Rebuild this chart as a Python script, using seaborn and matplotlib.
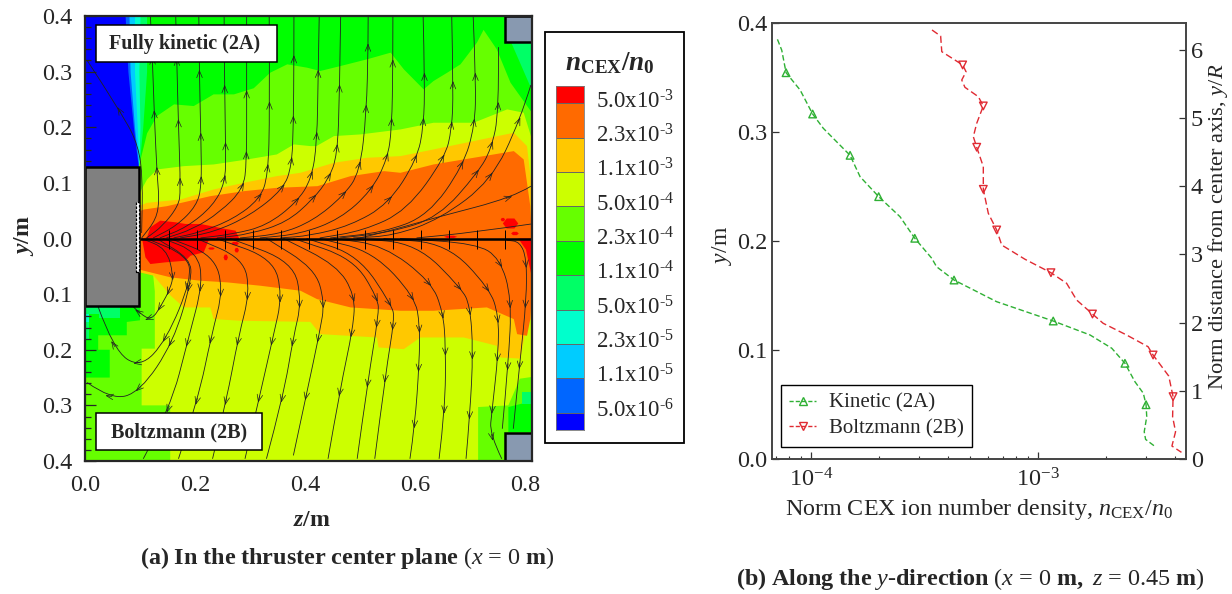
import matplotlib
matplotlib.use("Agg")
import matplotlib.pyplot as plt
import numpy as np
import pandas as pd
import seaborn as sns
from matplotlib.colors import ListedColormap
from matplotlib.lines import Line2D
from matplotlib.patches import PathPatch, Rectangle
from matplotlib.path import Path

W, H = 1232, 594

# ---- contour colours and levels
band_colors = ["#ff0000", "#ff6a00", "#ffc800", "#ccff00", "#66ff00", "#00ff00",
               "#00ff66", "#00ffcc", "#00ccff", "#0066ff", "#0000ff"]
level_labels = ["5.0x10$^{\\text{-}3}$", "2.3x10$^{\\text{-}3}$", "1.1x10$^{\\text{-}3}$",
                "5.0x10$^{\\text{-}4}$", "2.3x10$^{\\text{-}4}$", "1.1x10$^{\\text{-}4}$",
                "5.0x10$^{\\text{-}5}$", "2.3x10$^{\\text{-}5}$", "1.1x10$^{\\text{-}5}$",
                "5.0x10$^{\\text{-}6}$"]

# ---- fully kinetic half, band edges
lime_top_z = [.097, .112, .13, .161, .197, .233, .27, .306, .336, .367, .403, .427, .464, .512, .555, .579,
              .615, .633, .658, .682, .712, .724, .748, .773, .812]
lime_top_y = [.13, .19, .221, .242, .239, .26, .26, .271, .299, .314, .308, .302, .311, .323, .335, .305,
              .269, .284, .299, .314, .353, .376, .341, .281, .227]
yellow_top_z = [.097, .112, .13, .179, .233, .294, .348, .379, .409, .42, .452, .5, .573, .633, .706, .767, .797, .812]
yellow_top_y = [.08, .107, .125, .131, .134, .143, .152, .17, .167, .167, .185, .188, .197, .209, .209, .233, .227, .179]
amber_top_z = [.099, .112, .173, .233, .288, .348, .391, .452, .512, .573, .633, .706, .779, .803, .812]
amber_top_y = [.06, .065, .071, .089, .101, .113, .119, .137, .146, .149, .161, .176, .191, .167, .089]
orange_top_z = [.099, .106, .148, .227, .288, .348, .422, .482, .543, .573, .633, .706, .779, .797, .809, .812]
orange_top_y = [.05, .053, .059, .077, .086, .092, .095, .113, .122, .119, .134, .146, .158, .143, .059, .0]
red_top_z = [.103, .112, .118, .136, .164, .182, .209, .255, .273, .28]
red_top_y = [.0, .003, .021, .033, .03, .027, .027, .018, .015, .0]
left_y = [.4, .3, .2, .128]
left_edges = {6: [.112, .112, .105, .098], 7: [.1, .098, .1, .098], 8: [.09, .09, .095, .098],
              9: [.08, .082, .09, .098], 10: [.073, .078, .088, .097]}

# ---- Boltzmann half, band edges
amber_low_z = [.099, .124, .155, .179, .227, .233, .282, .409, .427, .53, .533, .579, .609, .688, .748, .755, .791,
               .803, .812]
amber_low_y = [-.06, -.066, -.102, -.123, -.123, -.144, -.147, -.149, -.171, -.177, -.195, -.198, -.177, -.177,
               -.192, -.213, -.215, -.15, -.144]
orange_low_z = [.099, .106, .155, .209, .258, .318, .367, .391, .421, .482, .573, .633, .73, .779, .785, .803, .809, .812]
orange_low_y = [-.055, -.057, -.069, -.075, -.078, -.084, -.09, -.093, -.108, -.123, -.129, -.129, -.123, -.144,
                -.171, -.174, -.144, -.1]
red_low_z = [.103, .109, .118, .145, .182, .191, .215, .225]
red_low_y = [.0, -.033, -.045, -.042, -.039, -.03, -.024, .0]
lime_left_z = [0, 0, .1, .124, .127, .127, .103, .103, .155, .155]
lime_left_y = [-.4, -.12, -.058, -.066, -.095, -.198, -.198, -.3, -.3, -.4]
green_left_z = [0, 0, .1, .1, .076, .076, .024, .024, .045, .045, 0]
green_left_y = [-.25, -.122, -.122, -.147, -.15, -.174, -.174, -.2, -.2, -.25, -.25]
spring_left_z = [0, 0, .063, .063, .025, .025, .008, .008]
spring_left_y = [-.18, -.122, -.122, -.143, -.143, -.135, -.135, -.18]
cyan_left_z = [0, 0, .008, .008]
cyan_left_y = [-.15, -.135, -.135, -.15]
lime_right_z = [.715, .715, .77, .791, .812, .812]
lime_right_y = [-.4, -.303, -.3, -.252, -.249, -.4]
green_right_z = [.77, .77, .794, .812, .812]
green_right_y = [-.348, -.303, -.297, -.297, -.348]
spring_right_z = [.794, .794, .812, .812]
spring_right_y = [-.297, -.276, -.276, -.297]
spring_corner_z = [.775, .812, .812]
spring_corner_y = [.354, .354, .27]
# small red islands: centre z, centre y, half width, half height
red_spots_z = [.774, .76, .782, .23, .256, .273, .276, .665]
red_spots_y = [.027, .034, .009, -.018, -.034, -.009, -.021, .003]
red_spots_dz = [.014, .004, .007, .006, .004, .007, .004, .012]
red_spots_dy = [.009, .003, .003, .002, .005, .003, .004, .002]

# ---- streamlines, far end first
top_lines = [
    ([.004, .07, .097, .105, .103], [.32, .22, .167, .107, .01]),
    ([.119, .123, .126, .1315, .135, .13, .103], [.4, .317, .221, .107, .071, .035, .001]),
    ([.165, .167, .17, .174, .17, .142, .112], [.4, .317, .203, .086, .059, .023, .001]),
    ([.207, .208, .211, .212, .203, .167, .124], [.4, .293, .173, .095, .059, .023, .001]),
    ([.253, .254, .256, .255, .233, .185, .136], [.4, .26, .155, .101, .059, .02, .001]),
    ([.294, .294, .294, .288, .245, .197, .148], [.4, .25, .137, .089, .047, .017, .001]),
    ([.335, .336, .333, .318, .27, .209, .161], [.4, .227, .113, .071, .035, .011, .001]),
    ([.38, .38, .379, .376, .361, .30, .233, .173], [.4, .323, .203, .131, .089, .041, .011, .001]),
    ([.426, .424, .422, .412, .385, .33, .27, .21], [.4, .293, .173, .107, .065, .023, .008, .001]),
    ([.465, .463, .459, .443, .415, .367, .30, .24], [.4, .262, .149, .107, .071, .029, .008, .001]),
    ([.515, .515, .512, .50, .47, .415, .355, .282], [.4, .347, .227, .119, .077, .032, .008, .001]),
    ([.56, .56, .558, .55, .521, .464, .391, .318], [.4, .314, .197, .143, .086, .035, .008, .001]),
    ([.615, .618, .616, .604, .552, .482, .409, .355], [.4, .281, .203, .143, .062, .023, .005, .001]),
    ([.667, .67, .667, .655, .585, .506, .427], [.4, .262, .197, .146, .05, .014, .001]),
    ([.706, .711, .709, .688, .624, .542, .446], [.4, .281, .203, .131, .041, .011, .001]),
    ([.752, .753, .739, .715, .643, .555, .464], [.344, .227, .161, .119, .038, .011, .001]),
    ([.811, .791, .739, .646, .561, .488], [.276, .212, .104, .035, .005, .001]),
    ([.811, .779, .639, .555, .5], [.094, .074, .038, .014, .001]),
    ([.811, .706, .603], [.026, .011, .001]),
]
bottom_lines = [
    ([.088, .1, .121, .139, .155, .161, .148, .103], [-.123, -.135, -.147, -.12, -.09, -.066, -.018, 0]),
    ([.024, .052, .1, .148, .194, .185, .112], [-.123, -.2, -.233, -.183, -.072, -.03, 0]),
    ([.004, .048, .1, .161, .194, .191, .13], [-.259, -.29, -.276, -.186, -.075, -.036, 0]),
    ([.106, .155, .188, .215, .203, .142], [-.396, -.306, -.18, -.078, -.024, 0]),
    ([.17, .206, .23, .252, .233, .155], [-.396, -.288, -.174, -.09, -.03, 0]),
    ([.232, .258, .279, .30, .288, .203], [-.396, -.288, -.177, -.096, -.036, 0]),
    ([.291, .318, .342, .359, .342, .239], [-.396, -.282, -.177, -.102, -.036, 0]),
    ([.33, .361, .379, .394, .379, .264], [-.396, -.282, -.177, -.114, -.042, 0]),
    ([.379, .403, .427, .436, .418, .33], [-.39, -.279, -.168, -.114, -.054, 0]),
    ([.442, .464, .488, .491, .458, .361], [-.396, -.27, -.159, -.102, -.048, 0]),
    ([.495, .515, .534, .533, .488, .379], [-.396, -.252, -.138, -.108, -.036, 0]),
    ([.527, .547, .563, .558, .497, .403], [-.396, -.24, -.144, -.12, -.03, 0]),
    ([.591, .6, .608, .609, .6, .524, .427], [-.396, -.336, -.222, -.156, -.105, -.024, 0]),
    ([.644, .655, .656, .651, .63, .543, .452], [-.396, -.306, -.192, -.132, -.078, -.012, 0]),
    ([.693, .7, .706, .7, .685, .603, .494], [-.396, -.318, -.201, -.12, -.09, -.009, 0]),
    ([.758, .736, .74, .752, .752, .736, .658, .543], [-.396, -.351, -.312, -.204, -.138, -.09, -.009, 0]),
    ([.759, .77, .776, .755, .712, .573], [-.342, -.225, -.108, -.036, -.009, 0]),
    ([.779, .791, .803, .803, .791, .767], [-.342, -.222, -.108, -.036, -.006, -.003]),
]

# ---- density profiles at z = 0.45 m
kinetic_y = [.385, .375, .3544, .3385, .3165, .3034, .2786, .259, .2407, .2223, .2025, .1841, .1764, .1642, .1443,
             .1266, .1138, .1016, .0878, .0709, .0603, .0498, .0388, .025, .018, .0122]
kinetic_log_n = [-4.148, -4.129, -4.11, -4.048, -3.993, -3.946, -3.828, -3.784, -3.702, -3.608, -3.543, -3.468,
                 -3.447, -3.37, -3.182, -2.933, -2.771, -2.675, -2.617, -2.573, -2.536, -2.524, -2.521, -2.532,
                 -2.526, -2.489]
kinetic_marks = [2, 4, 6, 8, 10, 13, 15, 18, 21]
boltz_y = [.3936, .388, .3737, .3615, .3553, .3477, .341, .3324, .3239, .308, .2957, .286, .2682, .2474, .2254,
           .2101, .1963, .1832, .1709, .1612, .1459, .133, .1245, .1138, .103, .0954, .0761, .0572, .0388, .025,
           .0119, .0061]
boltz_log_n = [-3.467, -3.429, -3.424, -3.332, -3.317, -3.336, -3.322, -3.263, -3.241, -3.27, -3.285, -3.27, -3.241,
               -3.241, -3.219, -3.182, -3.16, -3.057, -2.943, -2.874, -2.83, -2.76, -2.713, -2.61, -2.515, -2.493,
               -2.424, -2.405, -2.407, -2.394, -2.41, -2.368]
boltz_marks = [3, 8, 11, 13, 15, 18, 21, 25, 27]

GREEN = "#2fb034"
RED = "#e02a32"
BLOCK = "#8899b0"
TICK_FS = 17.5

sns.set_style("ticks")
plt.rcParams["font.family"] = ["Liberation Serif", "DejaVu Serif"]
plt.rcParams["mathtext.fontset"] = "custom"
plt.rcParams["mathtext.rm"] = "Liberation Serif"
plt.rcParams["mathtext.it"] = "Liberation Serif:italic"
plt.rcParams["mathtext.bf"] = "Liberation Serif:bold"
plt.rcParams["mathtext.bfit"] = "Liberation Serif:italic:bold"


def px_axes(fig, left, top, right, bottom):
    return fig.add_axes([left / W, 1 - bottom / H, (right - left) / W, (bottom - top) / H])


def fig_text(fig, x, y, s, **kw):
    kw.setdefault("ha", "center")
    kw.setdefault("va", "center")
    fig.text(x / W, 1 - y / H, s, **kw)


def fig_box(fig, left, top, right, bottom, lw=1.5, zorder=5):
    fig.add_artist(Rectangle((left / W, 1 - bottom / H), (right - left) / W, (bottom - top) / H,
                             transform=fig.transFigure, fc="white", ec="black", lw=lw, zorder=zorder))


def stream(ax, zs, ys, skip):
    pts = np.column_stack([zs, ys])
    mids = (pts[:-1] + pts[1:]) / 2
    verts = [pts[0]]
    codes = [Path.MOVETO]
    for i in range(1, len(pts) - 1):
        verts += [pts[i], mids[i]]
        codes += [Path.CURVE3, Path.CURVE3]
    verts.append(pts[-1])
    codes.append(Path.LINETO)
    ax.add_patch(PathPatch(Path(verts, codes), fill=False, ec="#222222", lw=0.6, zorder=4))
    # open arrow heads on the part away from the axis
    for i in range(1, len(pts) - skip):
        pos = 0.25 * mids[i - 1] + 0.5 * pts[i] + 0.25 * mids[i]
        step = mids[i - 1] - mids[i]
        step = step / np.hypot(*step) * 0.012
        ax.annotate("", xy=pos + step, xytext=pos,
                    arrowprops=dict(arrowstyle="->,head_length=0.5,head_width=0.2", color="#222222", lw=0.5,
                                    shrinkA=0, shrinkB=0, mutation_scale=10), zorder=4)


fig = plt.figure(figsize=(W / 100, H / 100), dpi=100)

# ---------- left panel
ax = px_axes(fig, 85, 16, 532, 461)
ax.set_xlim(0, .813)
ax.set_ylim(-.4, .4)
ax.set_axisbelow(False)
ax.add_patch(Rectangle((0, 0), .813, .4, fc=band_colors[5], ec="none", zorder=0))
ax.add_patch(Rectangle((0, -.4), .813, .4, fc=band_colors[3], ec="none", zorder=0))
for band, edge in left_edges.items():
    ax.fill_betweenx(left_y, 0, edge, color=band_colors[band], lw=0, zorder=0.5)
ax.fill(spring_corner_z, spring_corner_y, color=band_colors[6], lw=0, zorder=0.5)
for zs, ys, band in [(lime_top_z, lime_top_y, 4), (yellow_top_z, yellow_top_y, 3), (amber_top_z, amber_top_y, 2),
                     (orange_top_z, orange_top_y, 1), (red_top_z, red_top_y, 0)]:
    ax.fill_between(zs, ys, 0, color=band_colors[band], lw=0, zorder=1 + (4 - band) * 0.1)
for zs, ys, band in [(lime_left_z, lime_left_y, 4), (green_left_z, green_left_y, 5), (spring_left_z, spring_left_y, 6),
                     (cyan_left_z, cyan_left_y, 7), (lime_right_z, lime_right_y, 4), (green_right_z, green_right_y, 5),
                     (spring_right_z, spring_right_y, 6)]:
    ax.fill(zs, ys, color=band_colors[band], lw=0, zorder=0.5)
for zs, ys, band in [(amber_low_z, amber_low_y, 2), (orange_low_z, orange_low_y, 1), (red_low_z, red_low_y, 0)]:
    ax.fill_between(zs, ys, 0, color=band_colors[band], lw=0, zorder=1 + (4 - band) * 0.1)
ax.fill([.788, .812, .812, .802], [0, 0, -.066, -.02], color=band_colors[0], lw=0, zorder=1.6)
for z0, y0, rz, ry in zip(red_spots_z, red_spots_y, red_spots_dz, red_spots_dy):
    ax.fill(z0 + rz * np.array([-1, -.5, .5, 1, .5, -.5]), y0 + ry * np.array([0, 1, 1, 0, -1, -1]),
            color=band_colors[0], lw=0, zorder=1.6)

for zs, ys in top_lines:
    stream(ax, zs, ys, 3)
for zs, ys in bottom_lines:
    stream(ax, zs, ys, 2)

ax.plot([.1, .813], [0, 0], color="black", lw=1.8, zorder=4.5, solid_capstyle="butt")
ax.vlines(np.arange(.153, .81, .0509), -.019, .016, color="black", lw=0.7, zorder=4.5)
ax.add_patch(Rectangle((0, -.122), .099, .25, fc="#808080", ec="black", lw=1.8, zorder=5))
ax.add_patch(Rectangle((.092, -.06), .007, .126, fc="white", ec="black", lw=0.9, ls=(0, (2, 1.2)), zorder=5.5))
ax.add_patch(Rectangle((.763, .354), .05, .046, fc=BLOCK, ec="black", lw=1.8, zorder=5))
ax.add_patch(Rectangle((.763, -.4), .05, .05, fc=BLOCK, ec="black", lw=1.8, zorder=5))

ax.set_xticks([0, .2, .4, .6, .8])
ax.set_xticklabels(["0.0", "0.2", "0.4", "0.6", "0.8"])
ax.set_yticks(np.arange(-.4, .41, .1))
ax.set_yticklabels([f"{abs(v):.1f}" for v in np.arange(-.4, .41, .1)])
ax.set_yticks(np.arange(-.4, .41, .02), minor=True)
ax.tick_params(axis="y", which="major", direction="in", length=8, width=0.9, labelsize=TICK_FS, pad=9)
ax.tick_params(axis="y", which="minor", direction="in", length=4, width=0.9)
ax.tick_params(axis="x", which="major", length=0, labelsize=TICK_FS, pad=10)
for s in ax.spines.values():
    s.set_linewidth(1.6)
    s.set_zorder(7)

fig_box(fig, 96, 25, 277, 62, lw=1.1)
fig_text(fig, 185, 44, "Fully kinetic (2A)", fontsize=14.5, fontweight="bold", zorder=6)
fig_box(fig, 96, 413, 262, 450, lw=1.1)
fig_text(fig, 179, 432, "Boltzmann (2B)", fontsize=14.5, fontweight="bold", zorder=6)
fig_text(fig, 24, 236, r"$\mathbfit{y}\mathbf{/m}$", fontsize=17, rotation=90)
fig_text(fig, 312, 521, r"$\mathbfit{z}\mathbf{/m}$", fontsize=17)
fig_text(fig, 347, 558, r"$\mathbf{(a)\ In\ the\ thruster\ center\ plane}$ ($x$ = 0 $\mathbf{m}$)", fontsize=17.4)

# ---------- colour key, end bands are half as tall as the others
fig_box(fig, 545, 32, 684, 443, lw=1.3, zorder=1)
fig_text(fig, 610, 63, r"$\mathbfit{n}_{\mathbf{CEX}}\mathbf{/}\mathbfit{n}_{\mathbf{0}}$", fontsize=19.5, zorder=3)
key = px_axes(fig, 556, 86, 584, 430)
key.set_zorder(3)
key_rows = [0] + sorted(list(range(1, 10)) * 2) + [10]
key_cells = pd.DataFrame(np.array(key_rows).reshape(-1, 1))
sns.heatmap(key_cells, ax=key, cmap=ListedColormap(band_colors), cbar=False, xticklabels=False, yticklabels=False,
            vmin=-0.5, vmax=10.5)
key.hlines(np.arange(1, 20, 2), 0, 1, color="#666666", lw=0.7)
for s in key.spines.values():
    s.set_visible(True)
    s.set_color("#777777")
    s.set_linewidth(0.6)
for i, label in enumerate(level_labels):
    fig_text(fig, 596, 103.7 + 34.3 * i - 2, label, fontsize=16.5, ha="left", zorder=3)

# ---------- right panel
bx = px_axes(fig, 772, 23, 1186, 459)
bx.set_xscale("log")
profiles = pd.DataFrame({"n": 10 ** np.array(kinetic_log_n), "y": kinetic_y})
sns.lineplot(data=profiles, x="n", y="y", ax=bx, color=GREEN, lw=1, estimator=None, sort=False, orient="y",
             linestyle=(0, (4, 2)))
sns.scatterplot(data=profiles.iloc[kinetic_marks], x="n", y="y", ax=bx, marker="^", s=30, fc="none", ec=GREEN, lw=1)
profiles_b = pd.DataFrame({"n": 10 ** np.array(boltz_log_n), "y": boltz_y})
sns.lineplot(data=profiles_b, x="n", y="y", ax=bx, color=RED, lw=1, estimator=None, sort=False, orient="y",
             linestyle=(0, (5, 2.5)))
sns.scatterplot(data=profiles_b.iloc[boltz_marks], x="n", y="y", ax=bx, marker="v", s=30, fc="none", ec=RED, lw=1)
bx.set_xlim(10 ** -4.172, 10 ** -2.348)
bx.set_ylim(0, .4)
bx.set_yticks([0, .1, .2, .3, .4])
bx.set_yticklabels(["0.0", "0.1", "0.2", "0.3", "0.4"])
bx.tick_params(axis="both", which="major", direction="in", length=5, width=0.9, labelsize=TICK_FS, color="#333333")
bx.tick_params(axis="x", which="major", pad=7)
bx.tick_params(axis="x", which="minor", direction="in", length=2.5, width=0.8, color="#333333")
bx.set_xlabel("")
bx.set_ylabel("")
fig_text(fig, 979, 509, "Norm CEX ion number density, $n_{\\mathrm{CEX}}/n_0$", fontsize=17.3)
fig_text(fig, 722, 245, "$y$/m", fontsize=17, rotation=90)
for s in bx.spines.values():
    s.set_linewidth(1.2)
    s.set_color("#444444")

rx = bx.twinx()
rx.set_ylim(0, 6.39)
rx.set_yticks(range(7))
rx.tick_params(axis="y", direction="in", length=5, width=0.9, labelsize=TICK_FS, color="#333333")
fig_text(fig, 1218, 227, "Norm distance from center axis, $y$/$R$", fontsize=16.2, rotation=90)
for s in rx.spines.values():
    s.set_linewidth(1.2)
    s.set_color("#444444")

handles = [Line2D([], [], color=GREEN, lw=1, ls=(0, (3, 1.5)), marker="^", ms=6, mfc="none", label="Kinetic (2A)"),
           Line2D([], [], color=RED, lw=1, ls=(0, (3, 1.5)), marker="v", ms=6, mfc="none", label="Boltzmann (2B)")]
bx.legend(handles=handles, loc="lower left", bbox_to_anchor=((781 - 772) / 414, (459 - 447) / 436), borderaxespad=0,
          fontsize=15, frameon=True, fancybox=False, framealpha=1, edgecolor="black", handlelength=1.3,
          handletextpad=0.6, labelspacing=0.3, borderpad=0.4)
fig_text(fig, 970, 579, r"$\mathbf{(b)\ Along\ the\ }y\mathbf{\text{-}direction}$ ($x$ = 0 $\mathbf{m,}$ $z$ = 0.45 $\mathbf{m}$)",
         fontsize=17.4)

fig.savefig("out.png", dpi=100)
